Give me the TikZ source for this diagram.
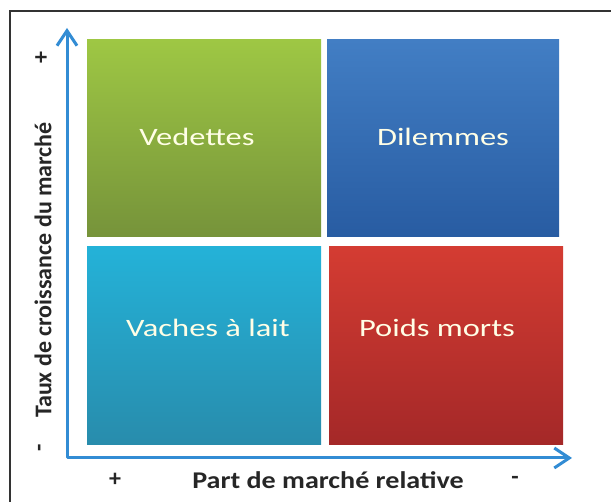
\documentclass[tikz,border=0pt]{standalone}
\usepackage{fontspec}
\setmainfont{Carlito}
\usepackage{tikz}
\usetikzlibrary{arrows.meta,positioning,calc}

\definecolor{axisblue}{RGB}{50,140,212}
\definecolor{greentop}{RGB}{158,199,68}
\definecolor{greenbot}{RGB}{118,147,58}
\definecolor{bluetop}{RGB}{66,126,196}
\definecolor{bluebot}{RGB}{40,92,162}
\definecolor{cyantop}{RGB}{36,178,216}
\definecolor{cyanbot}{RGB}{40,140,172}
\definecolor{redtop}{RGB}{212,60,50}
\definecolor{redbot}{RGB}{164,40,40}

\newcommand{\stretchx}[2]{\scalebox{#1}[1]{#2}}

\begin{document}
\begin{tikzpicture}[x=1pt,y=1pt,line width=1.5pt,
    quad/.style={inner sep=0pt,minimum width=234pt,minimum height=197pt},
    lbl/.style={text=white!90!yellow,font=\fontsize{25}{25}\selectfont},
    axlbl/.style={text=black!85,font=\fontsize{24}{24}\selectfont\bfseries},
    axis/.style={draw=axisblue,line width=3pt,line join=round,
      {Straight Barb[length=15pt,width=20pt]}-{Straight Barb[length=15pt,width=20pt]}}]

        \useasboundingbox (0,0) rectangle (611,502);
        \draw[black!80] (10,0) -- (10,491) -- (611,491);

        % the four fields
        \node[quad,top color=greentop,bottom color=greenbot] (stars) at (204,363.5) {};
        \node[quad,minimum width=232pt,top color=bluetop,bottom color=bluebot] (dilem) at (443,363.5) {};
        \node[quad,minimum height=198pt,top color=cyantop,bottom color=cyanbot] (cows) at (204,156) {};
        \node[quad,minimum height=198pt,top color=redtop,bottom color=redbot] (dogs) at (446,156) {};

        \node[lbl] (starslbl) at (197,365) {\stretchx{1.3}{Vedettes}};
        \node[lbl] (dilemlbl) at (443,365) {\stretchx{1.3}{Dilemmes}};
        \node[lbl] (cowslbl) at (208,174) {\stretchx{1.3}{Vaches à lait}};
        \node[lbl] (dogslbl) at (437,174) {\stretchx{1.3}{Poids morts}};

        % axes
        \coordinate (vtip) at (67,474);
        \coordinate (orig) at (67,44);
        \coordinate (htip) at (572,44);
        \draw[axis] (vtip) -- (orig) -- (htip);

        \node[axlbl,rotate=90] (vplus) at (42,444) {+};
        \node[axlbl,rotate=90] (vtitle) at (43,232) {Taux de croissance du marché};
        \node[axlbl,rotate=90] (vminus) at (42,54) {-};
        \node[axlbl] (hplus) at (115,22) {+};
        \node[axlbl] (htitle) at (328,22) {\stretchx{1.17}{Part de marché relative}};
        \node[axlbl] (hminus) at (515,22) {-};

      \end{tikzpicture}
\end{document}
